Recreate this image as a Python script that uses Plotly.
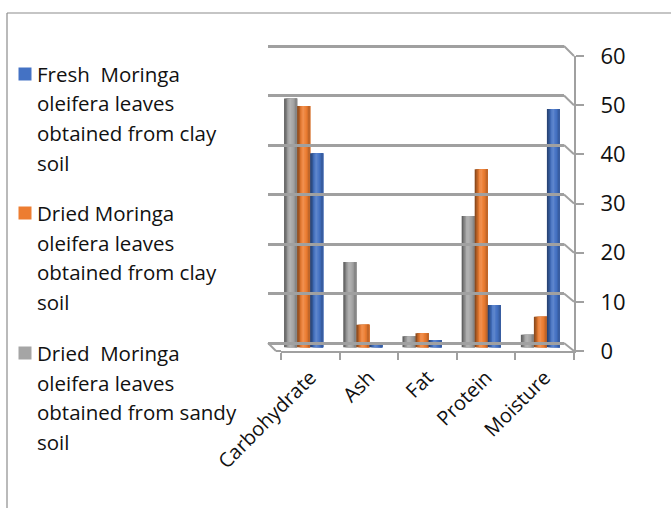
import plotly.graph_objects as go

# Proximate composition of Moringa oleifera leaves (%)
categories = ["Carbohydrate", "Ash", "Fat", "Protein", "Moisture"]
series_names = [
    "Dried  Moringa oleifera leaves obtained from sandy soil",
    "Dried Moringa oleifera leaves obtained from clay soil",
    "Fresh  Moringa oleifera leaves obtained from clay soil",
]
dried_sandy = [50.4, 17.3, 2.3, 26.6, 2.6]
dried_clay = [48.9, 4.6, 2.9, 36.1, 6.2]
fresh_clay = [39.3, 0.9, 1.5, 8.6, 48.3]
series_values = [dried_sandy, dried_clay, fresh_clay]
colors = ["#A5A5A5", "#ED7D31", "#4472C4"]
y_ticks = [0, 10, 20, 30, 40, 50, 60]

# Legend text, one list of lines per entry (top to bottom)
legend_lines = [
    ["Fresh  Moringa", "oleifera leaves", "obtained from clay", "soil"],
    ["Dried Moringa", "oleifera leaves", "obtained from clay", "soil"],
    ["Dried  Moringa", "oleifera leaves", "obtained from sandy", "soil"],
]
legend_colors = ["#4472C4", "#ED7D31", "#A5A5A5"]

W, H = 671, 508
FONT = "Open Sans"
GRID = "#A0A0A0"
TEXT = "#111111"


def px_x(x):
    return x / W


def px_y(y):
    return 1 - y / H


def shade(hex_color, f):
    r, g, b = (int(hex_color[i:i + 2], 16) for i in (1, 3, 5))
    if f <= 1:
        r, g, b = (c * f for c in (r, g, b))
    else:
        t = f - 1
        r, g, b = (c + (255 - c) * t for c in (r, g, b))
    return "#%02x%02x%02x" % tuple(int(max(0, min(255, round(c)))) for c in (r, g, b))


# pixel geometry of the three planes (bars, front axis, back wall)
bars_x = (274, 570)
bars_y = (347.5, 51.1)    # value 0 -> 60
front_x = (281, 574)
front_y = (351, 56)
back_x = (268, 564)
back_y = (343, 46)

# bar layout in category units
BAR_W = 0.22
group_start = -1.5 * BAR_W
# cylinder shading: left edge dark, highlight left of centre, right side mid
shade_profile = [0.60, 0.75, 0.92, 1.10, 1.14, 1.06, 0.98, 0.90, 0.82]

fig = go.Figure()

for k, (name, vals, col) in enumerate(zip(series_names, series_values, colors)):
    off0 = group_start + k * BAR_W
    n = len(shade_profile)
    for i, f in enumerate(shade_profile):
        fig.add_trace(go.Bar(
            x=categories, y=vals, name=name,
            marker=dict(color=shade(col, f), line=dict(width=0)),
            offset=off0 + i * BAR_W / n, width=BAR_W - i * BAR_W / n,
            xaxis="x", yaxis="y", showlegend=False,
            hoverinfo="skip" if i else None,
        ))

# invisible traces to give the front and back axes their categories / ranges
fig.add_trace(go.Scatter(x=categories, y=[None] * 5, xaxis="x2", yaxis="y2",
                         showlegend=False, hoverinfo="skip"))
fig.add_trace(go.Scatter(x=categories, y=[None] * 5, xaxis="x3", yaxis="y3",
                         showlegend=False, hoverinfo="skip"))

# back wall axis: pad the range a little so the top gridline is drawn
pad = 0.5
back_span = back_y[0] - back_y[1]
back_dom = [px_y(back_y[0] + back_span * pad / 60),
            px_y(back_y[1] - back_span * pad / 60)]

fig.update_layout(
    width=W, height=H,
    margin=dict(l=0, r=0, t=0, b=0, pad=0, autoexpand=False),
    paper_bgcolor="white", plot_bgcolor="rgba(0,0,0,0)",
    showlegend=False,
    barmode="overlay",
    font=dict(family=FONT, color=TEXT),
    xaxis=dict(domain=[px_x(bars_x[0]), px_x(bars_x[1])], type="category",
               range=[-0.5, 4.5], visible=False, anchor="y",
               automargin=False),
    yaxis=dict(domain=[px_y(bars_y[0]), px_y(bars_y[1])], range=[0, 60],
               visible=False, anchor="x", automargin=False),
    xaxis2=dict(domain=[px_x(front_x[0]), px_x(front_x[1])], type="category",
                range=[-0.5, 4.5], anchor="y2", showline=True, linecolor=GRID,
                linewidth=2, ticks="outside", ticklen=7, tickcolor=GRID,
                tickwidth=2, tickson="boundaries", tickangle=-45,
                ticklabelstandoff=5,
                tickfont=dict(size=20, family=FONT, color=TEXT),
                showgrid=False, zeroline=False, automargin=False),
    yaxis2=dict(domain=[px_y(front_y[0]), px_y(front_y[1])], range=[0, 60],
                anchor="x2", side="right", showline=True, linecolor=GRID,
                linewidth=2, ticks="outside", ticklen=8, tickcolor=GRID,
                tickwidth=2, tickvals=y_ticks, ticklabelstandoff=12,
                tickfont=dict(size=22, family=FONT, color=TEXT),
                showgrid=False, zeroline=False, automargin=False),
    xaxis3=dict(domain=[px_x(back_x[0]), px_x(back_x[1])], type="category",
                range=[-0.5, 4.5], anchor="y3", visible=False,
                automargin=False),
    yaxis3=dict(domain=back_dom, range=[-pad, 60 + pad],
                anchor="x3", tickvals=y_ticks, showgrid=True, gridcolor=GRID,
                gridwidth=2.5, showticklabels=False, ticks="", zeroline=False,
                showline=False, automargin=False),
)


def val_to_py(v, ys):
    return ys[0] + (ys[1] - ys[0]) * v / 60.0


shapes = []
# connectors from the back wall grid to the front value axis
for v in y_ticks:
    shapes.append(dict(type="line", xref="paper", yref="paper",
                       x0=px_x(back_x[1]), y0=px_y(val_to_py(v, back_y)),
                       x1=px_x(front_x[1]), y1=px_y(val_to_py(v, front_y)),
                       line=dict(color=GRID, width=2)))
# left edge of the floor
shapes.append(dict(type="line", xref="paper", yref="paper",
                   x0=px_x(back_x[0]), y0=px_y(back_y[0]),
                   x1=px_x(front_x[0] - 5), y1=px_y(front_y[0]),
                   line=dict(color=GRID, width=2)))
shapes.append(dict(type="line", xref="paper", yref="paper",
                   x0=px_x(front_x[0] - 5), y0=px_y(front_y[0]),
                   x1=px_x(front_x[0]), y1=px_y(front_y[0]),
                   line=dict(color=GRID, width=2)))
# chart frame
shapes.append(dict(type="line", xref="paper", yref="paper",
                   x0=px_x(7), y0=px_y(13), x1=1.0, y1=px_y(13),
                   line=dict(color="#8C8C8C", width=1.2)))
shapes.append(dict(type="line", xref="paper", yref="paper",
                   x0=px_x(7), y0=px_y(13), x1=px_x(7), y1=0,
                   line=dict(color="#8C8C8C", width=1.2)))

# manual legend
annotations = []
entry_top = [74, 213, 353]
line_gap = 29.5
for lines, col, y0 in zip(legend_lines, legend_colors, entry_top):
    shapes.append(dict(type="rect", xref="paper", yref="paper",
                       x0=px_x(18.5), x1=px_x(31.5),
                       y0=px_y(y0 + 6.5), y1=px_y(y0 - 6.5),
                       fillcolor=col, line=dict(width=0)))
    for i, txt in enumerate(lines):
        annotations.append(dict(
            text=txt, xref="paper", yref="paper", x=px_x(35),
            y=px_y(y0 + i * line_gap), xanchor="left", yanchor="middle",
            showarrow=False, font=dict(size=20.5, family=FONT, color=TEXT),
        ))

fig.update_layout(shapes=shapes, annotations=annotations)

fig.write_html("out.html")
